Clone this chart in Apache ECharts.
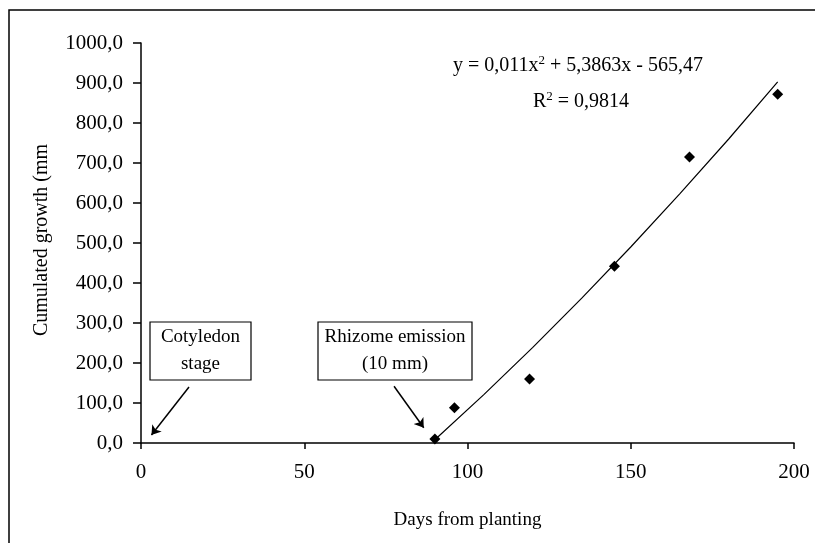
<!DOCTYPE html>
<html>
<head>
<meta charset="utf-8">
<script src="https://cdn.jsdelivr.net/npm/echarts@6/dist/echarts.min.js"></script>
<style>html,body{margin:0;padding:0;background:#fff}#c{width:815px;height:543px}</style>
</head>
<body>
<div id="c"></div>
<script>
// Observed data points (days, cumulated growth mm)
var days = [90, 96, 119, 145, 168, 195];
var growth = [10, 88, 160, 442, 715, 872];
// Trend line points
var trendDays = [90, 105, 120, 135, 150, 165, 180, 195];
var trendGrowth = [8, 121, 239, 362, 490, 623, 760, 903];
// Axis ticks
var xTicks = [0, 50, 100, 150, 200];
var yTicks = [0, 100, 200, 300, 400, 500, 600, 700, 800, 900, 1000];

var font = 'Liberation Serif';
var chart = echarts.init(document.getElementById('c'));
var pts = days.map(function (d, i) { return [d, growth[i]]; });
var trend = trendDays.map(function (d, i) { return [d, trendGrowth[i]]; });

chart.setOption({
  animation: false,
  backgroundColor: '#fff',
  grid: { left: 141, right: 21, top: 43, bottom: 100, containLabel: false },
  xAxis: {
    type: 'value', min: xTicks[0], max: xTicks[xTicks.length - 1], interval: 50,
    name: 'Days from planting', nameLocation: 'middle', nameGap: 68,
    nameTextStyle: { fontFamily: font, fontSize: 19, color: '#000' },
    axisLine: { lineStyle: { color: '#000', width: 1.5 } },
    axisTick: { show: true, length: 6, lineStyle: { color: '#000', width: 1.5 } },
    axisLabel: { fontFamily: font, fontSize: 21, color: '#000', margin: 19 },
    splitLine: { show: false }
  },
  yAxis: {
    type: 'value', min: yTicks[0], max: yTicks[yTicks.length - 1], interval: 100,
    axisLine: { show: true, lineStyle: { color: '#000', width: 1.5 } },
    axisTick: { show: true, length: 8, lineStyle: { color: '#000', width: 1.5 } },
    axisLabel: { fontFamily: font, fontSize: 21, color: '#000', margin: 18,
      formatter: function (v) { return v.toFixed(1).replace('.', ','); } },
    splitLine: { show: false }
  },
  series: [
    {
      type: 'line', data: trend, showSymbol: false, smooth: false,
      lineStyle: { color: '#000', width: 1.2 }, z: 2
    },
    {
      type: 'scatter', data: pts, symbol: 'diamond', symbolSize: 11,
      itemStyle: { color: '#000', opacity: 1 }, z: 3
    },
    {
      type: 'lines', coordinateSystem: 'cartesian2d',
      symbol: ['none', 'arrow'], symbolSize: 9,
      lineStyle: { color: '#000', width: 1.5, opacity: 1 },
      data: [
        { coords: [[14.7, 140], [3.2, 20]] },
        { coords: [[77.5, 142], [86.6, 38]] }
      ]
    }
  ],
  graphic: [
    { type: 'rect', shape: { x: 9, y: 10, width: 830, height: 560 }, style: { fill: 'none', stroke: '#000', lineWidth: 1.5 }, z: 0, silent: true },
    { type: 'text', x: 42, y: 240, rotation: Math.PI / 2,
      style: { text: 'Cumulated growth (mm', font: '20px "Liberation Serif"', fill: '#000', textAlign: 'center', textVerticalAlign: 'middle' } },
    { type: 'rect', shape: { x: 150, y: 322, width: 101, height: 58 }, style: { fill: '#fff', stroke: '#000', lineWidth: 1.2 }, z: 10 },
    { type: 'text', x: 200.5, y: 351, z: 11,
      style: { text: 'Cotyledon\nstage', font: '19px "Liberation Serif"', lineHeight: 27, fill: '#000', textAlign: 'center', textVerticalAlign: 'middle' } },
    { type: 'rect', shape: { x: 318, y: 322, width: 154, height: 58 }, style: { fill: '#fff', stroke: '#000', lineWidth: 1.2 }, z: 10 },
    { type: 'text', x: 395, y: 351, z: 11,
      style: { text: 'Rhizome emission\n(10 mm)', font: '19px "Liberation Serif"', lineHeight: 27, fill: '#000', textAlign: 'center', textVerticalAlign: 'middle' } },
    { type: 'text', x: 578, y: 66, z: 11,
      style: { rich: { n: { fontFamily: font, fontSize: 20, color: '#000' }, s: { fontFamily: font, fontSize: 13, color: '#000', padding: [0, 0, 11, 0] } },
        text: '{n|y = 0,011x}{s|2}{n| + 5,3863x - 565,47}', textAlign: 'center', textVerticalAlign: 'middle' } },
    { type: 'text', x: 581, y: 102, z: 11,
      style: { rich: { n: { fontFamily: font, fontSize: 20, color: '#000' }, s: { fontFamily: font, fontSize: 13, color: '#000', padding: [0, 0, 11, 0] } },
        text: '{n|R}{s|2}{n| = 0,9814}', textAlign: 'center', textVerticalAlign: 'middle' } }
  ]
});
</script>
</body>
</html>
